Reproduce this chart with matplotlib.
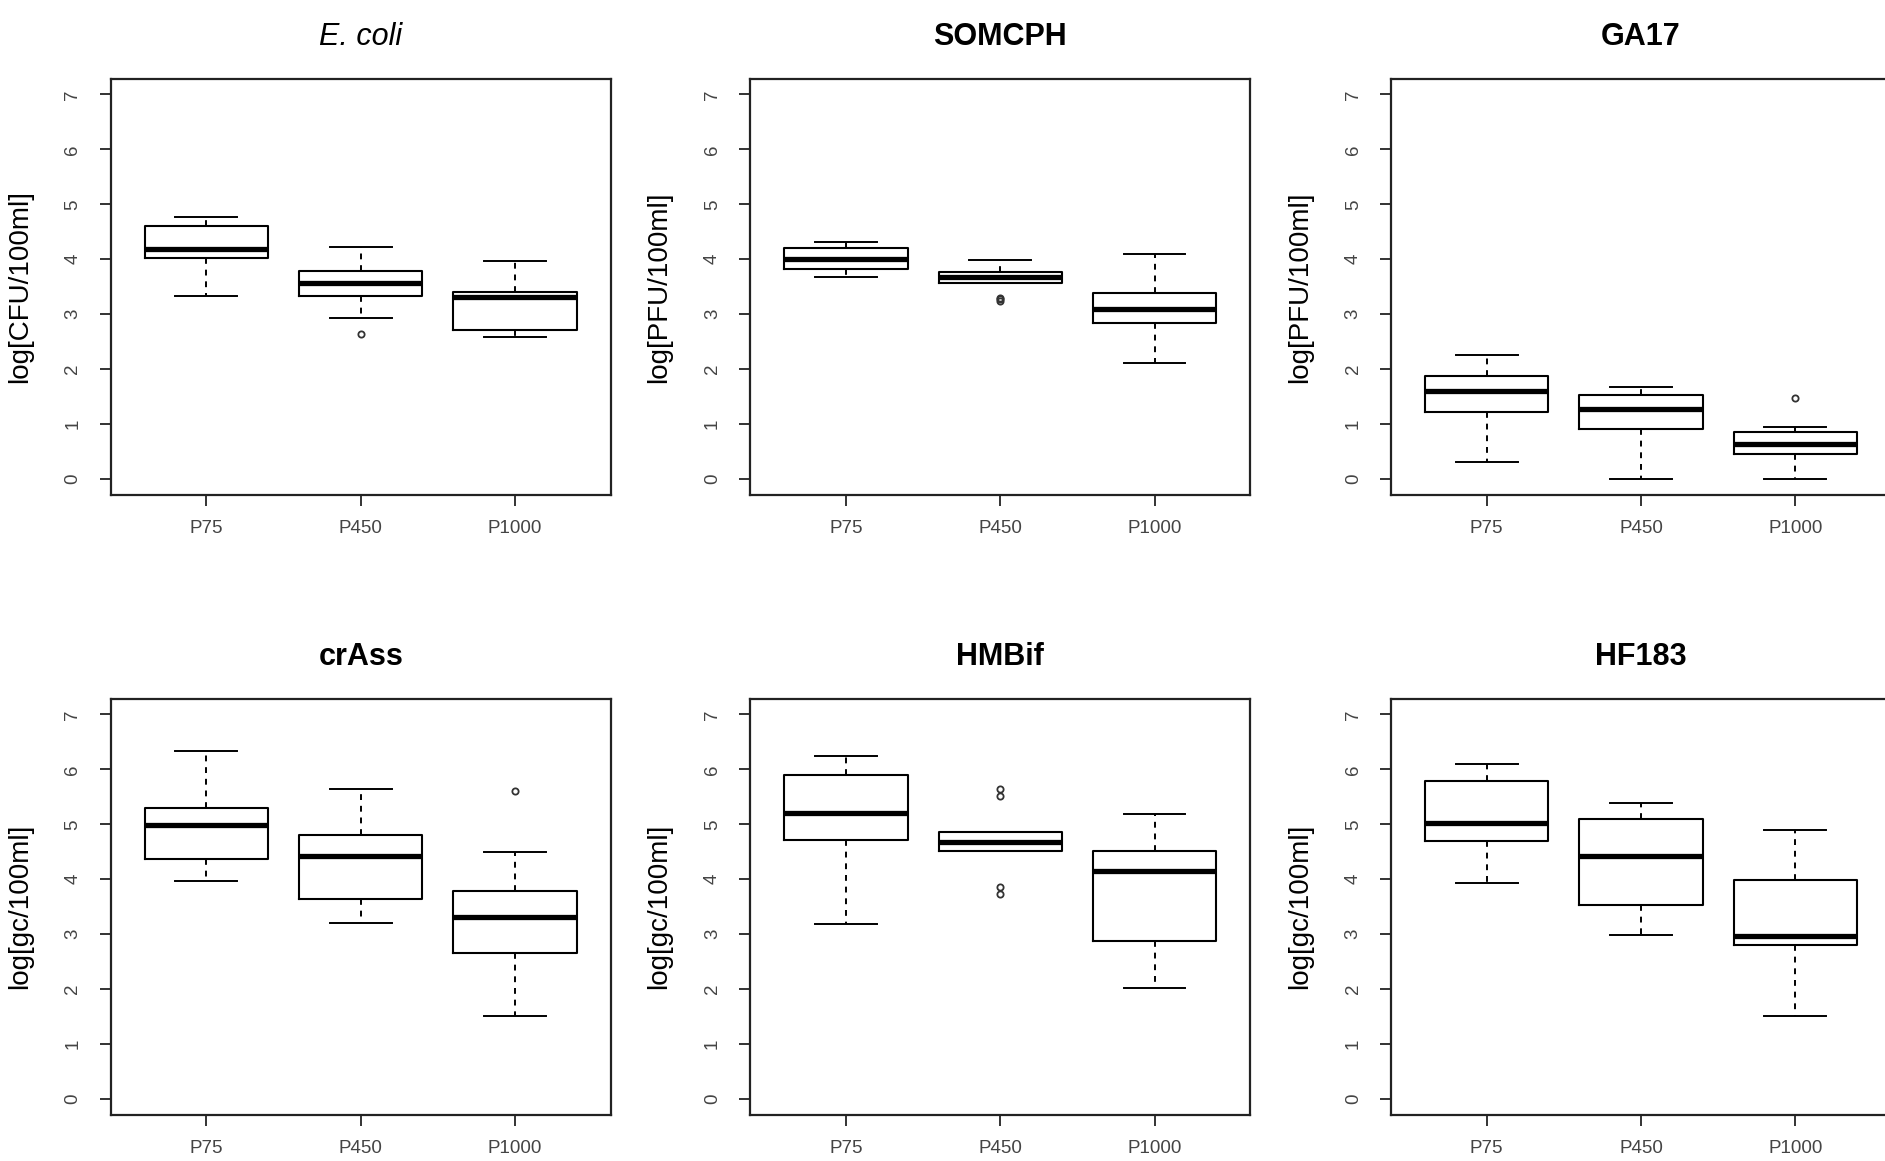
import matplotlib
matplotlib.use("Agg")
import matplotlib.pyplot as plt

plt.rcParams['font.family'] = ['Liberation Sans', 'DejaVu Sans']

# data (log units)
titles = ['E. coli', 'SOMCPH', 'GA17', 'crAss', 'HMBif', 'HF183']
ylabels = ['log[CFU/100ml]', 'log[PFU/100ml]', 'log[PFU/100ml]',
           'log[gc/100ml]', 'log[gc/100ml]', 'log[gc/100ml]']
groups = ['P75', 'P450', 'P1000']

# one row per panel, one value per group
whis_hi = [[4.77, 4.22, 3.97],
           [4.32, 3.99, 4.09],
           [2.25, 1.68, 0.95],
           [6.34, 5.65, 4.49],
           [6.24, 4.86, 5.19],
           [6.09, 5.38, 4.90]]
q3 = [[4.61, 3.78, 3.41],
      [4.21, 3.77, 3.39],
      [1.88, 1.53, 0.86],
      [5.29, 4.80, 3.79],
      [5.90, 4.86, 4.51],
      [5.78, 5.09, 3.98]]
med = [[4.19, 3.57, 3.31],
       [4.00, 3.67, 3.09],
       [1.60, 1.27, 0.64],
       [4.98, 4.42, 3.32],
       [5.21, 4.67, 4.15],
       [5.02, 4.42, 2.97]]
q1 = [[4.03, 3.34, 2.72],
      [3.83, 3.57, 2.85],
      [1.23, 0.91, 0.46],
      [4.36, 3.64, 2.66],
      [4.72, 4.52, 2.87],
      [4.70, 3.53, 2.81]]
whis_lo = [[3.34, 2.94, 2.58],
           [3.67, 3.57, 2.12],
           [0.31, 0.00, 0.00],
           [3.97, 3.20, 1.52],
           [3.19, 4.52, 2.02],
           [3.94, 2.99, 1.52]]
outliers = [[[], [2.64], []],
            [[], [3.25, 3.27, 3.29], []],
            [[], [], [1.47]],
            [[], [], [5.60]],
            [[], [5.64, 5.52, 3.86, 3.74], []],
            [[], [], []]]

fig = plt.figure(figsize=(18.85, 11.61), dpi=100)

col_left = [0.0587, 0.398, 0.7379]
row_bottom = [0.574, 0.040]
w, h = 0.2653, 0.358

for i in range(6):
    r, c = divmod(i, 3)
    ax = fig.add_axes([col_left[c], row_bottom[r], w, h])

    stats = []
    for j, g in enumerate(groups):
        stats.append(dict(label=g, med=med[i][j], q1=q1[i][j], q3=q3[i][j],
                          whislo=whis_lo[i][j], whishi=whis_hi[i][j],
                          fliers=outliers[i][j]))
    ax.bxp(stats, positions=[1, 2, 3], widths=0.8, capwidths=0.4,
           boxprops=dict(color='black', linewidth=1.5),
           medianprops=dict(color='black', linewidth=3.8, solid_capstyle='butt'),
           whiskerprops=dict(color='black', linewidth=1.4, linestyle=(0, (3, 3))),
           capprops=dict(color='black', linewidth=1.4),
           flierprops=dict(marker='o', markersize=4.5, markerfacecolor='none',
                           markeredgecolor='#333333', markeredgewidth=1.3))

    ax.set_xlim(0.38, 3.62)
    ax.set_ylim(-0.28, 7.28)
    ax.set_yticks(range(8))
    ax.set_xticks([1, 2, 3])
    ax.set_xticklabels(groups)
    for s in ax.spines.values():
        s.set_linewidth(1.6)
        s.set_color('#222222')
    ax.tick_params(length=8, width=1.4, color='#333333', labelcolor='#444444',
                   labelsize=13.5)
    ax.tick_params(axis='x', pad=10)
    ax.tick_params(axis='y', pad=13, labelrotation=90)
    for lab in ax.get_yticklabels():
        lab.set_va('center')

    ax.set_ylabel(ylabels[i], fontsize=20)
    ax.yaxis.set_label_coords(-0.156, 0.5)

    if titles[i] == 'E. coli':
        ax.text(0.5, 1.10, titles[i], transform=ax.transAxes, ha='center',
                va='center', fontsize=22, style='italic')
    else:
        ax.text(0.5, 1.10, titles[i], transform=ax.transAxes, ha='center',
                va='center', fontsize=22, fontweight='bold')

fig.savefig('out.png', dpi=100)
